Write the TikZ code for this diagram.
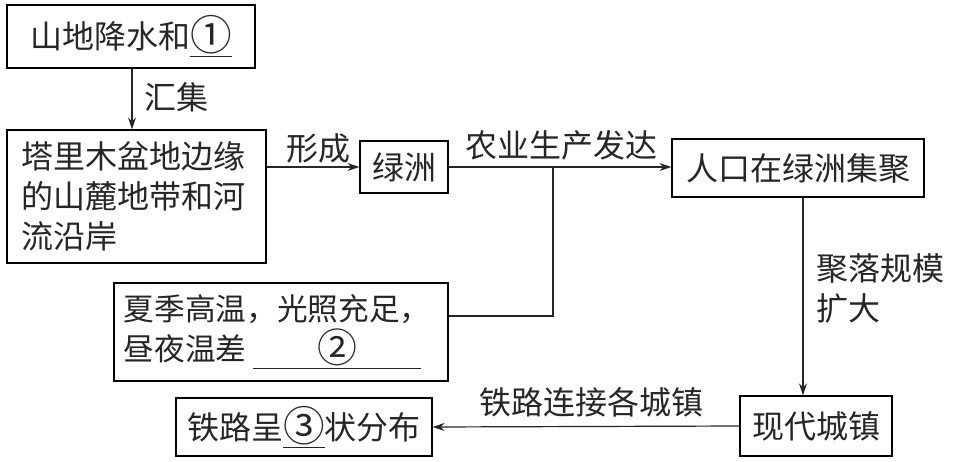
\documentclass[tikz,border=0pt]{standalone}
\usepackage{fontspec}
\usetikzlibrary{arrows.meta,calc}
\newfontfamily\cjk{Noto Sans CJK SC}
\newcommand\circnum[1]{\raisebox{-1.5pt}{\scalebox{1.3}{#1}}}

\begin{document}
\begin{tikzpicture}[x=0.75pt,y=-0.75pt,
  every node/.style={font=\cjk\fontsize{24}{30}\selectfont, text=black!85},
  box/.style={draw, line width=0.9pt, inner sep=0pt, align=center},
  link/.style={line width=0.9pt, draw=black!85, -{Stealth[length=9pt,width=6pt]}}]
\useasboundingbox (0,0) rectangle (957,461);
% boxes
\node [box, minimum width=186pt, minimum height=47.25pt] (rain) at (131,36.5) {山地降水和\underline{\circnum{①}}};
\node [box, minimum width=194.25pt, minimum height=99.75pt, align=left, text width=172pt, inner xsep=11pt] (foot) at (136.5,196.5) {塔里木盆地边缘\\的山麓地带和河\\流沿岸};
\node [box, minimum width=66pt, minimum height=39pt] (oasis) at (404,167) {绿洲};
\node [box, minimum width=189pt, minimum height=43.5pt] (people) at (798,168) {人口在绿洲集聚};
\node [box, minimum width=250.5pt, minimum height=73.5pt, align=left, text width=236pt, inner xsep=7pt, font=\cjk\fontsize{23}{30}\selectfont] (climate) at (281,332) {夏季高温，光照充足，\\昼夜温差\hspace{5pt}\underline{\makebox[126pt]{\circnum{②}}}};
\node [box, minimum width=114pt, minimum height=45pt] (town) at (816,426) {现代城镇};
\node [box, minimum width=192pt, minimum height=43.5pt] (rail) at (304,427) {铁路呈\underline{\circnum{③}}状分布};
% connectors
\draw [link] (rain.south -| 132,0) -- (foot.north -| 132,0);
\node [anchor=west] (gather) at (140,97) {汇集};
\draw [link] (oasis.west -| foot.east) -- (oasis.west);
\node (form) at (318,148) {形成};
\draw [link] (oasis.east) -- (oasis.east -| people.west);
\node (farm) at (561,145) {农业生产发达};
\coordinate (join) at (553,167);
\draw [line width=0.9pt, draw=black!85] ([yshift=12pt]climate.east) -| (join);
\draw [link] (people.south -| 803,0) -- (town.north -| 803,0);
\node [anchor=west, align=left] (grow) at (812,288) {聚落规模\\扩大};
\draw [link] (town.west) -- (rail.east);
\node (connect) at (591,402) {铁路连接各城镇};
\end{tikzpicture}
\end{document}
